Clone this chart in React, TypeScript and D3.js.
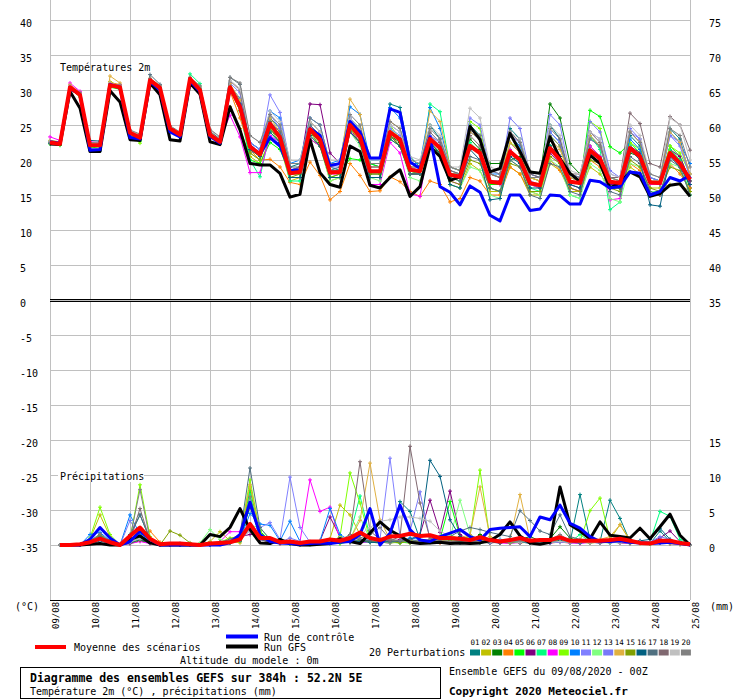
import * as d3 from "d3"

// time axis: 6-hourly steps over 384h, one label per day
const days = ["09/08", "10/08", "11/08", "12/08", "13/08", "14/08", "15/08", "16/08", "17/08", "18/08", "19/08", "20/08", "21/08", "22/08", "23/08", "24/08", "25/08"]
const hours = d3.range(0, 385, 6)
const precipHours = hours.slice(1)

const leftTicks = [40, 35, 30, 25, 20, 15, 10, 5, 0, -5, -10, -15, -20, -25, -30, -35]
const rightTempTicks = [75, 70, 65, 60, 55, 50, 45, 40, 35]
const rightPrecipTicks = [15, 10, 5, 0]

const perturbLabels = ["01", "02", "03", "04", "05", "06", "07", "08", "09", "10", "11", "12", "13", "14", "15", "16", "17", "18", "19", "20"]
const perturbColors = ["#008080", "#c0c000", "#008000", "#ff8000", "#00ff00", "#800080", "#00ff80", "#ff00ff", "#80ff00", "#0080ff", "#8080ff", "#80ff80", "#7878f8", "#e0b040", "#80a000", "#006080", "#507080", "#806870", "#c0c0c0", "#808080"]

// Temperature 2m (°C)
const tempMean = [22.5, 22.3, 30.4, 29.3, 22.1, 22.1, 30.7, 30.4, 23.9, 23.2, 31.4, 30.3, 24.5, 23.6, 31.6, 30, 23.6, 22.6, 30.4, 27.6, 21.9, 20.8, 25.2, 23.2, 18.1, 18.3, 24.4, 22.9, 18.2, 18.3, 25, 23.3, 18.4, 18.4, 24, 22.9, 18.6, 18.4, 23, 21.7, 17.9, 17.6, 22, 21, 16.9, 16.7, 21.2, 20, 16.7, 16.4, 21.7, 20, 16.9, 16.7, 21.4, 20.2, 16.9, 16.7, 21.7, 20.5, 16.8, 16.7, 21, 19.5, 17.2]
const tempControl = [22.6, 22.4, 30.2, 29.4, 21.4, 21.5, 30.8, 30.3, 23.2, 23, 31.2, 30, 24, 23.3, 31.3, 29.8, 23.4, 22.4, 30.2, 27.8, 22, 20.8, 23.2, 22, 18.5, 18.6, 24.5, 23.5, 19.2, 19.5, 25.5, 24, 20.3, 20.3, 27.3, 26.8, 19.7, 18.8, 23.3, 16.2, 15.4, 13.6, 16.3, 15.4, 12.1, 11.3, 15, 15, 12.8, 13, 15, 14.9, 13.7, 13.7, 17.1, 16.9, 16, 16.2, 18.3, 18.1, 15, 15.5, 17.5, 17, 17.8]
const tempGfs = [22.3, 22.2, 29.8, 27.4, 21.2, 21.2, 29.9, 28.3, 22.9, 22.8, 31, 29.3, 22.9, 22.7, 31, 29.4, 22.6, 22.2, 27.6, 24.3, 19.5, 19.3, 19.3, 18.1, 14.7, 15.1, 22.9, 18.2, 16.5, 16.1, 22, 21.2, 16.4, 16, 17.5, 18.6, 14.8, 16.2, 21.9, 20.5, 17.1, 17.6, 24.8, 22.9, 18.3, 18.8, 23.8, 21.2, 18.3, 18.1, 23.3, 20.2, 18.1, 16.9, 20.7, 19.5, 16, 16.7, 18.3, 17.6, 14.8, 15.2, 16.4, 16.6, 14.8]

const tempP01 = [22.6, 22.4, 30.5, 29.5, 22.3, 22.2, 30.6, 30.5, 24, 23.3, 31.5, 30.4, 24.6, 23.7, 31.4, 30.1, 23.8, 22.8, 30.6, 28.2, 22.5, 21.5, 26, 24.5, 19, 19.5, 25.5, 24, 19, 18.5, 26, 24.5, 19.5, 19, 28, 27.5, 20.5, 19, 25, 23, 19, 18.5, 25, 23.5, 18, 17.5, 24.5, 23, 18, 17.5, 25, 23, 17.5, 17, 23.5, 22, 17, 16.5, 23.5, 22, 17, 16.5, 24.5, 23, 17.5]
const tempP02 = [22.8, 22.6, 30.2, 29.2, 22.4, 22.3, 31.2, 30.6, 23.8, 23.1, 31.2, 30.2, 24.2, 23.4, 31.3, 30.2, 23.4, 22.4, 27.6, 24.5, 20.5, 19.5, 23, 22, 17, 17.5, 23, 22, 17, 17.5, 24, 22.5, 17.5, 17.5, 23, 22, 18, 18, 22.5, 21, 16.5, 16, 19.5, 18.5, 15.5, 15.5, 19, 18, 15, 15, 19.5, 18.5, 15.5, 15.5, 19, 18, 16, 16, 19, 18, 16, 16, 16.5, 16.5, 15.5]
const tempP03 = [22.4, 22.2, 30.1, 29.1, 21.9, 22, 30.5, 30.2, 23.6, 22.9, 31.2, 30.1, 24.3, 23.3, 31.4, 29.9, 23.3, 22.3, 30.1, 27.5, 21.5, 20.5, 24.5, 23, 18, 18.5, 24, 22.5, 18, 18.5, 25, 23, 18, 18, 23.5, 22.5, 18.5, 18.5, 22, 21, 18, 18, 23, 21.5, 19.5, 19.5, 20, 20.5, 17.5, 17.5, 28, 26, 19.5, 18, 22, 20.5, 16.5, 16, 21, 20.5, 17, 16.5, 21.5, 20, 16]
const tempP04 = [22.5, 22.4, 30.6, 29.4, 22.2, 22.3, 31, 30.8, 24.1, 23.4, 31.2, 30.1, 24.4, 23.4, 31.5, 30.2, 23.8, 22.7, 29.8, 26, 21.4, 20, 20.1, 19, 16.8, 16.5, 19.7, 17.8, 14.3, 15.5, 19.5, 17.8, 15.5, 15.6, 17.6, 16.9, 15.5, 14.8, 17, 16.5, 14, 14.5, 17.5, 17, 15, 15, 19, 18, 15.5, 15, 20, 18.5, 16, 15.5, 20, 19, 16, 16, 19.5, 18.5, 15, 15, 19.5, 18, 16]
const tempP05 = [22.3, 22.1, 30.2, 29, 21.7, 21.9, 30.4, 30.1, 23.5, 22.7, 31.3, 30.3, 24.4, 23.4, 31.8, 30.4, 23.5, 22.4, 30.5, 27.8, 20, 19.5, 22.5, 21.5, 18, 18, 23, 22, 17.5, 18, 20.2, 20, 19.5, 19, 23.5, 22, 18, 18.5, 23, 21.5, 17.5, 17, 22, 21, 16.5, 16.5, 21.5, 20, 16.5, 16, 22, 20.5, 17, 16.5, 27.1, 26.2, 21.9, 21, 22.5, 21, 17.5, 17, 22, 20.5, 17]
const tempP06 = [22.6, 22.4, 30.3, 29.3, 22.2, 22.1, 30.6, 30.4, 23.9, 23.2, 31.5, 30.4, 24.6, 23.7, 31.6, 30.1, 23.7, 22.7, 30.8, 28.5, 22, 21, 25.5, 23.5, 18.5, 19, 28, 27.9, 21, 19.5, 24, 22.5, 17.5, 17.5, 23.5, 22, 18, 18, 23, 22, 18, 17.5, 22, 21, 17, 17, 22.5, 21, 17.5, 17, 21, 19.5, 16.5, 16, 21, 20, 16.5, 16.5, 22, 21, 17, 17, 21.5, 20.5, 17]
const tempP07 = [22.4, 22.3, 30.5, 29.4, 22.1, 22, 30.8, 30.5, 24, 23.2, 31.4, 30.3, 24.5, 23.5, 32.3, 30.9, 23.6, 22.5, 30.2, 27, 20, 17.6, 24, 22.5, 17, 17, 24.5, 23, 18, 18.5, 25.5, 23.5, 18.5, 18.5, 24.5, 23, 18.5, 18, 28, 26.9, 19, 18.5, 22.5, 21, 16, 15.5, 21, 19.5, 16, 15.5, 22, 20, 15, 14.5, 23.5, 21.5, 12.9, 14, 22, 20.5, 16.5, 16.5, 21.5, 20, 15]
const tempP08 = [23.3, 22.8, 31, 29.8, 22.6, 22.5, 30.9, 30.7, 24.1, 23.5, 31.6, 30.5, 24.7, 23.8, 31.7, 30.3, 23.9, 22.9, 26.4, 23.3, 18.2, 18.2, 23.5, 22.5, 17.5, 17.5, 23, 22, 18, 18, 24, 23, 16.5, 16.5, 22.5, 21, 15.2, 14.8, 23.5, 22, 17, 16.5, 22, 21, 17, 16.5, 21.5, 20, 16.5, 16, 21.5, 20.5, 16, 15.5, 22, 20.5, 14.3, 14.5, 21.5, 20.5, 16.5, 16.5, 20.5, 19.5, 16.5]
const tempP09 = [22.5, 22.3, 30.2, 29.1, 22, 21.9, 30.5, 30.3, 23.7, 22.4, 31.3, 30.2, 24.4, 23.5, 31.5, 29.9, 23.5, 22.5, 30.5, 28.3, 21.5, 20.5, 25.5, 23.5, 18, 18.5, 25, 23.5, 18, 18.5, 24.5, 23, 18.5, 18.5, 25, 23, 18.5, 18.5, 23.5, 22, 18.5, 18, 25.5, 24.5, 18, 17.5, 22.5, 21.5, 17.5, 17, 23.5, 22, 17.5, 17, 25.5, 24.5, 17.5, 17, 22.5, 21.5, 17.5, 17, 22, 21, 18]
const tempP10 = [22.6, 22.5, 30.4, 29.2, 21.4, 21.3, 30.6, 30.3, 23.4, 22.9, 31.4, 30.2, 24.5, 23.6, 31.2, 29.7, 23.5, 22.5, 30.6, 28.8, 22.5, 21.5, 27, 26, 19.5, 20, 26, 25, 19.5, 20, 27.6, 26.5, 20, 20, 27.5, 26, 19.5, 19.5, 27.5, 24.5, 19, 18.5, 24, 23, 18, 18, 23.5, 22, 17.5, 17.5, 24, 22.5, 18, 17.5, 23, 22, 17.5, 17, 23, 21.5, 17.5, 17, 24, 22.4, 19.5]
const tempP11 = [22.5, 22.3, 30.6, 29.5, 22.3, 22.2, 30.8, 30.5, 24, 23.3, 31.5, 30.4, 24.5, 23.6, 31.7, 30.1, 23.8, 22.8, 31, 29.6, 21, 21.5, 29.3, 26.8, 19.5, 19.5, 25.5, 24, 18.5, 18.5, 26, 24, 18.5, 18.5, 24.5, 23.5, 19, 18.5, 23.5, 22, 19, 18.5, 26, 25, 18.5, 18, 23.5, 22.5, 17, 16.5, 26.5, 25, 18, 17.5, 24, 23, 18, 17.5, 24, 23, 17.5, 17, 23.5, 22.5, 18]
const tempP12 = [22.4, 22.2, 30.3, 29.2, 22.2, 22.1, 30.6, 30.3, 23.8, 23.1, 31.3, 30.2, 24.5, 23.6, 31.7, 30.2, 23.5, 22.6, 30.3, 27.4, 21, 20, 24, 22.5, 17.5, 17.5, 23.5, 22, 17, 17.5, 24, 22, 17.5, 17, 23, 22, 17.5, 17, 22.5, 21, 16.5, 16, 19, 18.5, 15, 14.5, 20, 19, 15.5, 15, 20, 19, 15, 14.5, 19.5, 18.5, 14.5, 14, 19.5, 19, 15.5, 15.5, 19.5, 19, 15]
const tempP13 = [22.6, 22.4, 30.5, 29.4, 21.6, 21.5, 30.7, 30.4, 23.9, 23.3, 31.5, 30.4, 24.6, 23.7, 31.6, 30, 23.6, 22.6, 30.7, 28, 22.5, 21.5, 26.5, 24.5, 18.5, 19, 25, 23.5, 19, 19, 25.5, 24, 19, 19, 25, 24, 19.5, 19, 23.5, 22.5, 18.5, 18, 24, 23, 18, 17.5, 26, 24.5, 18, 17.5, 24, 22.5, 17.5, 17, 25.5, 24, 18.5, 17.5, 24.5, 23, 17.5, 17, 23.5, 22, 17.5]
const tempP14 = [22.7, 22.6, 30.8, 29.6, 22.5, 22.4, 32, 31, 24.2, 23.6, 31.7, 30.6, 24.8, 23.9, 31.8, 30.4, 24, 23, 30.9, 28.6, 22, 20.5, 26, 24, 18.5, 19, 25.5, 24, 19, 19.5, 28.7, 26.5, 19, 19, 25.5, 24.5, 19, 19, 27, 25.5, 19, 18.5, 24, 23, 18, 17.5, 22.5, 21, 17.5, 17, 23, 21.5, 17.5, 17, 23.5, 22, 17.5, 17, 24, 22.5, 17, 17, 24, 22.5, 18]
const tempP15 = [22.5, 22.3, 30.3, 29.2, 22, 22, 30.5, 30.2, 23.8, 23.1, 31.3, 30.2, 24.4, 23.5, 31.5, 30.4, 23.5, 22.5, 30, 27.1, 21, 20, 24.5, 22.5, 17.5, 18, 24, 22, 17.5, 18, 24.5, 22.5, 18, 18, 23.5, 22, 18, 18, 22.5, 21, 17, 16.5, 20, 19.5, 16, 15.5, 19.5, 19, 15.5, 15.5, 20.5, 19.5, 16, 15.5, 20, 19.5, 16, 15.5, 20, 19, 16, 15.5, 19, 18.5, 15.5]
const tempP16 = [22.4, 22.3, 30.4, 29.3, 22.8, 22.7, 30.7, 30.4, 23.8, 23.2, 31.4, 30.3, 24.5, 23.6, 31.5, 30, 23.6, 22.6, 30.5, 28, 21.5, 20.5, 24, 22.5, 17.5, 17.5, 23.5, 22, 17.5, 17.5, 24, 22.5, 17.5, 17.5, 23, 22, 18, 18, 22.5, 21, 16.5, 16, 21.5, 20, 14.3, 14.5, 20.5, 19.5, 16, 16, 22, 20.5, 16.5, 16, 21.5, 20, 16, 16, 21.5, 20, 13.6, 13.4, 20.5, 19, 16.5]
const tempP17 = [22.6, 22.5, 30.4, 29.4, 22.4, 22.3, 30.8, 30.5, 24, 23.4, 32.2, 30.8, 24.7, 23.8, 31.7, 30.3, 24.1, 23, 31.8, 30.8, 22, 21, 25.5, 24, 19, 19, 25, 23.5, 18.5, 19, 25, 24, 18.5, 18.5, 24, 23, 18, 18, 23, 22, 17.5, 17, 20.5, 20, 16, 15.5, 20, 19, 15, 14.5, 19.5, 19, 15.5, 15, 20.5, 19.5, 15.5, 15, 20.5, 19.5, 15.5, 15, 20, 19, 15]
const tempP18 = [22.5, 22.4, 30.5, 29.3, 22.2, 22.2, 30.7, 30.5, 23.9, 23.3, 31.6, 30.4, 24.6, 23.7, 31.6, 30.1, 23.7, 22.7, 31.3, 30, 22, 21, 25, 23.5, 18.5, 19, 24.5, 23, 18.5, 18.5, 25, 23.5, 19, 19, 24, 23, 19, 19, 24, 22.5, 18.5, 18, 23.5, 22, 18, 17.5, 24, 22.5, 18, 17.5, 24.5, 23, 18, 18, 24, 22.5, 17.5, 17.5, 26.7, 25.2, 19.5, 19, 26.2, 25, 21.4]
const tempP19 = [22.7, 22.5, 30.6, 29.5, 22.4, 22.3, 31, 30.6, 24.2, 23.5, 31.5, 30.5, 24.7, 23.9, 31.8, 30.4, 24.3, 23.2, 31.4, 30.2, 23.5, 22.5, 27, 25.5, 20, 20, 25.5, 24, 20, 20, 26, 24.5, 20, 20, 25, 24, 20.5, 20, 25, 23.5, 19, 19, 27.4, 26, 19, 18.5, 24, 23, 18.5, 18, 25, 23.5, 18.5, 18, 24, 23, 18, 17.5, 25, 23.5, 18, 17.5, 26, 25, 20]
const tempP20 = [22.5, 22.4, 30.5, 29.6, 22.5, 22.4, 30.9, 30.7, 24.3, 23.7, 31.6, 30.6, 24.9, 24, 31.8, 30.6, 24.4, 23.3, 31.8, 31, 23.5, 22.5, 26.5, 25, 19.5, 19.5, 26, 25, 19.5, 19.5, 26.5, 25, 19.5, 19.5, 25.5, 24.5, 20, 19.5, 24.5, 23, 19, 18.5, 24.5, 23.5, 18.5, 18, 24, 22.5, 17.5, 17.5, 23.5, 22, 18, 17.5, 23, 22, 17.5, 17, 24, 22.5, 18, 17.5, 24.5, 23.5, 19]

// Precipitation (mm per 6h), from +6h
const precipMean = [0, 0, 0.1, 0.4, 0.9, 0.4, 0, 1.3, 2.5, 0.9, 0.1, 0.2, 0.2, 0.1, 0, 0.2, 0.3, 0.4, 0.8, 3, 1, 1, 0.4, 0.5, 0.3, 0.5, 0.5, 0.8, 0.6, 1, 1.8, 1, 0.7, 1.2, 1.3, 1.6, 1.3, 1.4, 1, 1, 0.9, 0.7, 1.1, 0.7, 0.5, 0.7, 1, 0.6, 0.7, 0.7, 1.1, 0.6, 0.6, 0.6, 0.6, 0.7, 0.9, 0.6, 0.3, 0.2, 0.6, 0.6, 0.3, 0.1]
const precipControl = [0, 0, 0, 0.8, 2.5, 1, 0, 0.5, 2, 0.8, 0, 0, 0, 0, 0, 0, 0, 0.3, 1.5, 6.1, 1.5, 0.5, 0.3, 0.2, 0.1, 0.2, 0.3, 0.2, 0.4, 0.5, 1.5, 5.2, 0, 1.7, 5.7, 2.2, 0.7, 0.5, 1.2, 1.7, 2.2, 1.2, 0.7, 2.2, 2.4, 2.5, 2.6, 1.2, 4, 3.6, 5.7, 3.1, 2.4, 1.2, 0.5, 0.5, 0.6, 0.4, 0.3, 0.2, 0.3, 0.4, 0.2, 0]
const precipGfs = [0, 0, 0, 0.1, 0.2, 0, 0, 0.8, 1.3, 0.3, 0, 0, 0, 0, 0, 1.5, 1.2, 2.5, 5.2, 2.2, 0.3, 0.2, 0.8, 0.2, 0, 0, 0.1, 0.2, 0.9, 0.5, 0.2, 1.7, 3.3, 2.1, 1.3, 0.4, 0.2, 0.3, 0.4, 0.2, 0.3, 0.2, 0.3, 0.6, 1.5, 3.3, 1.3, 0.3, 0.1, 0.4, 8.3, 2.9, 2, 0.9, 3.3, 1.4, 1.2, 1, 2.4, 0.9, 2.6, 4.4, 1.4, 0]

const precipP01 = [0, 0, 0, 0.6, 1.5, 0.4, 0, 1.5, 4.3, 0.8, 0, 0, 0.2, 0, 0, 0, 0.1, 0.3, 0.5, 6, 1.2, 0.5, 0.2, 0.3, 0.1, 0.2, 0.4, 0.3, 0.6, 0.4, 0.8, 0.5, 0.3, 1, 6.2, 4.8, 0.8, 0.6, 0.4, 0.5, 0.3, 0.4, 0.6, 0.3, 0.5, 0.8, 0.4, 0.3, 0.5, 0.6, 0.9, 0.4, 7.2, 0.8, 0.5, 6.4, 3.8, 0.5, 0.3, 0.2, 2, 0.5, 0.2, 0]
const precipP02 = [0, 0, 0, 0.8, 4.3, 1.2, 0, 0.3, 0.8, 0.2, 0, 0, 0, 0, 0, 0.5, 1.9, 0.6, 0.3, 3, 0.8, 0.4, 0.2, 0.5, 0.3, 0.3, 0.6, 0.9, 5.7, 4.3, 1.5, 0.8, 0.4, 0.3, 0.5, 0.4, 0.3, 0.6, 0.4, 0.3, 0.5, 0.4, 0.3, 0.5, 0.4, 0.6, 0.3, 0.4, 0.5, 0.3, 0.5, 0.4, 0.3, 0.6, 0.4, 0.8, 2.9, 0.6, 0.4, 0.3, 0.5, 0.4, 0.2, 0]
const precipP03 = [0, 0, 0, 0.3, 1.2, 0.5, 0, 0.2, 0.6, 0.3, 0, 0, 0, 0, 0, 0.1, 0.2, 0.4, 0.8, 5.5, 1.4, 0.6, 0.3, 0.2, 0.1, 0.2, 0.3, 0.2, 0.5, 0.4, 0.6, 0.5, 0.4, 0.3, 0.5, 0.6, 0.4, 0.5, 0.6, 0.8, 0.6, 0.5, 1.5, 0.4, 0.3, 0.5, 0.8, 1.2, 0.6, 0.9, 2.6, 1, 0.5, 0.4, 0.3, 0.5, 0.3, 0.4, 0.3, 0.2, 0.4, 0.3, 0.2, 0]
const precipP04 = [0, 0, 0, 0.2, 0.9, 0.3, 0, 0.5, 1.2, 2, 0.4, 0, 0, 0, 0, 0.2, 0.3, 0.5, 1.2, 8.3, 2, 0.4, 0.3, 0.2, 0.1, 0.3, 0.2, 0.4, 0.3, 0.5, 0.4, 0.8, 0.5, 0.3, 0.4, 0.3, 0.5, 0.4, 0.3, 0.4, 0.5, 1.5, 0.6, 0.3, 0.4, 0.3, 0.5, 0.3, 0.4, 0.3, 0.4, 0.3, 0.5, 0.3, 0.4, 0.6, 0.3, 0.4, 0.2, 0.3, 0.3, 0.2, 0.1, 0]
const precipP05 = [0, 0, 0, 0.4, 1, 0.6, 0, 0.4, 1, 0.5, 0, 0, 0.1, 0, 0, 0.1, 0.2, 0.4, 0.9, 7.8, 2, 0.6, 0.3, 0.2, 0.2, 0.1, 0.3, 0.4, 0.2, 0.5, 0.6, 0.4, 0.3, 0.5, 0.4, 0.3, 0.5, 0.4, 0.8, 6.2, 1.2, 0.5, 0.4, 0.3, 0.5, 0.3, 0.4, 0.3, 0.5, 0.4, 0.6, 0.3, 0.4, 0.3, 0.5, 0.4, 0.3, 0.2, 0.3, 0.2, 0.3, 0.2, 0.1, 0]
const precipP06 = [0, 0, 0, 0.2, 0.6, 0.3, 0, 0.3, 0.9, 0.4, 0, 0, 0, 0, 0, 0.1, 0.3, 0.8, 1.2, 1.5, 1.5, 0.8, 0.4, 0.3, 0.2, 0.4, 0.6, 4, 1.2, 0.5, 0.4, 0.6, 0.5, 0.4, 0.8, 0.6, 1.5, 6.4, 1.8, 7.7, 1.5, 0.6, 0.4, 0.3, 0.5, 0.4, 0.3, 0.5, 0.4, 0.3, 0.5, 0.4, 0.3, 0.6, 0.4, 0.5, 0.4, 0.3, 0.5, 0.4, 1, 2, 0.5, 0]
const precipP07 = [0, 0, 0, 0.3, 1.3, 0.5, 0, 0.6, 1.8, 0.6, 0, 0, 0, 0, 0, 0.1, 0.2, 0.3, 0.8, 7.2, 1.6, 0.5, 0.3, 0.2, 0.2, 0.1, 0.3, 0.4, 0.6, 1.5, 7, 1.2, 0.5, 0.4, 0.3, 0.5, 0.4, 0.6, 0.5, 0.4, 0.3, 0.5, 0.4, 0.6, 0.3, 0.4, 0.5, 0.3, 0.4, 0.5, 0.8, 0.4, 1.5, 0.5, 0.4, 0.3, 0.6, 0.4, 0.3, 0.5, 4.8, 4.1, 0.8, 0]
const precipP08 = [0, 0, 0, 0.3, 0.7, 0.2, 0, 0.2, 0.5, 0.2, 0, 0, 0, 0, 0, 0.2, 0.5, 1.9, 1.9, 2.5, 0.8, 0.4, 0.2, 0.3, 0.5, 9.3, 4.8, 5.4, 0.8, 0.4, 0.3, 0.5, 0.4, 0.3, 0.6, 0.4, 0.3, 0.5, 0.4, 0.3, 0.4, 0.3, 0.5, 0.4, 0.3, 0.2, 0.4, 0.3, 0.5, 0.3, 0.4, 0.3, 0.2, 0.4, 0.3, 0.5, 0.3, 0.2, 0.3, 0.4, 0.3, 0.2, 0.1, 0]
const precipP09 = [0, 0, 0, 1, 5.4, 1.5, 0, 0.8, 8.6, 1.2, 0, 0, 0, 0, 0, 0.2, 0.4, 1, 1.2, 9.3, 1.8, 0.6, 0.4, 0.3, 0.2, 0.3, 0.5, 0.4, 1.2, 10.3, 6, 0.8, 0.5, 0.4, 0.3, 0.6, 0.4, 0.5, 0.8, 1.5, 0.8, 1.2, 10.7, 0.8, 0.5, 0.4, 0.6, 0.3, 0.4, 0.5, 0.6, 0.4, 0.5, 4.9, 6.7, 0.8, 0.4, 0.3, 0.4, 0.3, 0.5, 0.3, 0.2, 0]
const precipP10 = [0, 0, 0, 1.5, 1.8, 0.6, 0, 4.3, 1.5, 0.5, 0, 0, 0, 0, 0, 0.1, 0.2, 0.4, 0.8, 4.5, 3, 2.8, 0.6, 3.4, 0.5, 0.3, 0.6, 5.2, 1.5, 0.6, 0.5, 0.8, 0.6, 0.4, 0.5, 1, 0.8, 0.6, 0.5, 0.4, 0.6, 0.5, 0.4, 0.6, 0.8, 0.5, 0.4, 0.6, 0.5, 0.3, 0.5, 0.4, 0.6, 0.4, 0.3, 0.5, 0.4, 0.3, 0.6, 0.4, 0.3, 0.4, 0.2, 0]
const precipP11 = [0, 0, 0, 0.2, 0.8, 0.3, 0, 0.4, 1, 0.3, 0, 0, 0, 0, 0, 0.2, 0.4, 0.6, 1, 2, 2.5, 3.2, 0.8, 9.7, 2.5, 0.4, 0.5, 0.6, 0.8, 0.6, 0.5, 0.6, 0.8, 12.4, 1.2, 0.5, 0.6, 0.4, 0.5, 0.6, 0.4, 0.5, 0.6, 0.4, 0.5, 0.3, 0.4, 0.5, 0.6, 0.4, 0.5, 0.3, 0.4, 0.5, 0.3, 0.4, 0.6, 0.4, 0.3, 0.5, 0.8, 0.6, 0.3, 0]
const precipP12 = [0, 0, 0, 0.3, 1, 0.4, 0, 0.5, 1.2, 0.4, 0, 0, 0, 0, 0.3, 2.2, 0.8, 0.4, 0.6, 2.8, 2.5, 0.8, 0.4, 0.3, 0.2, 0.3, 0.4, 0.3, 0.5, 0.8, 4, 0.8, 0.5, 0.3, 0.4, 0.6, 0.5, 0.4, 0.8, 1, 6.4, 1.5, 0.6, 0.4, 0.5, 0.3, 0.4, 0.5, 0.3, 0.4, 0.5, 0.4, 0.3, 0.5, 0.4, 0.3, 0.5, 0.4, 0.3, 0.2, 0.4, 0.3, 0.2, 0]
const precipP13 = [0, 0, 0, 0.4, 0.9, 0.3, 0, 3.5, 1.2, 0.4, 0, 0, 0, 0, 0, 0.1, 0.3, 0.5, 0.9, 3, 1.2, 0.6, 0.4, 1, 0.5, 0.3, 0.4, 0.6, 0.5, 0.4, 0.6, 0.5, 0.4, 0.8, 0.6, 2, 7.6, 0.8, 0.5, 0.4, 0.6, 0.4, 0.5, 0.3, 0.4, 0.6, 0.5, 0.3, 0.4, 0.5, 0.4, 0.6, 0.3, 0.4, 0.5, 0.3, 0.4, 0.3, 0.5, 0.4, 1.2, 0.8, 0.3, 0]
const precipP14 = [0, 0, 0, 0.3, 1.1, 0.5, 0, 0.4, 0.9, 0.6, 0, 0, 0, 0, 0, 0.3, 0.5, 0.6, 1, 8.6, 1.5, 0.5, 0.3, 0.2, 0.3, 0.4, 0.3, 0.5, 0.6, 0.8, 3.5, 11.7, 3.6, 0.8, 0.5, 0.6, 0.4, 0.5, 0.6, 0.8, 1, 1.5, 8.3, 1.2, 0.6, 0.8, 7.2, 0.8, 0.5, 0.4, 0.6, 0.5, 0.4, 0.6, 0.8, 1.2, 2.9, 0.8, 0.4, 0.3, 0.5, 0.4, 0.2, 0]
const precipP15 = [0, 0, 0, 0.5, 1.4, 0.6, 0, 0.3, 0.7, 0.4, 0, 2, 1.4, 0.3, 0, 0.2, 0.3, 0.5, 0.8, 3, 1, 0.5, 0.3, 0.2, 0.3, 0.2, 0.4, 0.3, 0.5, 0.4, 0.6, 0.5, 0.4, 0.5, 0.3, 0.6, 0.4, 0.5, 0.4, 0.6, 0.5, 0.4, 0.6, 0.5, 0.4, 0.3, 0.5, 0.4, 0.6, 0.5, 0.6, 0.4, 0.5, 0.3, 0.4, 0.5, 0.6, 0.3, 0.4, 0.3, 0.4, 0.3, 0.2, 0]
const precipP16 = [0, 0, 0, 0.2, 0.6, 0.2, 0, 0.3, 0.8, 0.3, 0, 0, 0, 0, 0, 0.1, 0.2, 0.4, 0.6, 2.5, 0.8, 0.4, 0.3, 0.2, 0.1, 0.3, 0.4, 0.3, 0.5, 0.4, 0.5, 0.4, 0.3, 0.6, 0.5, 0.8, 1.5, 12.1, 9.8, 3.6, 1.2, 0.6, 0.5, 0.4, 0.3, 0.5, 0.4, 0.3, 0.5, 0.4, 0.6, 0.4, 0.3, 0.5, 0.4, 0.6, 0.5, 0.4, 0.6, 0.8, 2.4, 0.8, 0.3, 0]
const precipP17 = [0, 0, 0, 0.4, 1.2, 0.5, 0, 1.2, 4.3, 0.8, 0, 0, 0, 0, 0, 0.2, 0.4, 0.8, 1.5, 11, 2.5, 0.8, 0.5, 0.3, 0.2, 0.4, 0.5, 0.3, 0.6, 0.5, 0.8, 0.6, 0.5, 0.4, 0.6, 0.8, 0.5, 0.6, 0.8, 1.2, 2, 2.5, 2.2, 1.8, 1.5, 1.2, 4.9, 3.5, 2, 1.5, 4.3, 1.2, 0.8, 0.6, 0.5, 0.4, 0.6, 0.5, 0.4, 0.3, 0.5, 0.4, 0.2, 0]
const precipP18 = [0, 0, 0, 0.3, 0.8, 0.4, 0, 0.8, 5.2, 0.6, 0, 0, 0, 0, 0, 0.2, 0.4, 0.6, 1, 2.5, 0.8, 0.5, 0.3, 0.4, 0.3, 0.2, 0.4, 0.5, 0.6, 1.5, 11.9, 2, 0.8, 0.6, 1.2, 14.1, 6, 1, 0.6, 0.5, 0.6, 0.4, 0.5, 0.6, 0.4, 0.5, 0.6, 0.8, 0.5, 0.6, 0.8, 0.5, 0.4, 0.3, 0.6, 0.8, 0.5, 0.4, 0.3, 0.4, 0.6, 0.5, 0.2, 0]
const precipP19 = [0, 0, 0, 0.2, 0.7, 0.3, 0, 0.4, 0.9, 0.5, 0, 0, 0, 0, 0, 0.2, 0.3, 0.5, 0.8, 2, 1, 0.6, 0.4, 0.3, 0.4, 0.5, 0.6, 0.8, 1, 1.2, 1.5, 2.5, 3.4, 3.6, 4, 4, 3.8, 3.4, 2, 1.2, 0.8, 0.6, 0.5, 0.4, 0.6, 0.5, 0.4, 0.5, 0.6, 0.4, 0.5, 0.4, 0.6, 0.3, 0.4, 0.5, 0.3, 0.4, 0.5, 0.3, 0.4, 0.3, 0.2, 0]
const precipP20 = [0, 0, 0, 0.5, 1.6, 0.5, 0, 1, 7.9, 0.8, 0, 0, 0, 0, 0, 0.2, 0.3, 0.6, 1.2, 6.9, 1.5, 0.6, 0.4, 0.3, 0.2, 0.4, 0.3, 0.5, 0.6, 0.8, 1, 1.5, 2.5, 0.8, 0.6, 0.5, 0.6, 0.8, 0.5, 0.4, 0.6, 0.5, 0.4, 0.6, 0.5, 0.4, 0.6, 0.5, 0.4, 0.8, 1.5, 0.6, 0.4, 0.5, 0.3, 0.4, 0.5, 0.4, 0.3, 0.4, 0.5, 0.3, 0.2, 0]

const tempPerturb = [tempP01, tempP02, tempP03, tempP04, tempP05, tempP06, tempP07, tempP08, tempP09, tempP10, tempP11, tempP12, tempP13, tempP14, tempP15, tempP16, tempP17, tempP18, tempP19, tempP20]
const precipPerturb = [precipP01, precipP02, precipP03, precipP04, precipP05, precipP06, precipP07, precipP08, precipP09, precipP10, precipP11, precipP12, precipP13, precipP14, precipP15, precipP16, precipP17, precipP18, precipP19, precipP20]

const FONT = "'DejaVu Sans Mono', monospace"
const GRID = "#c0c0c0"

export default function App() {
  const width = 740
  const height = 700

  const x = d3.scaleLinear().domain([0, 384]).range([50, 690])
  const y = d3.scaleLinear().domain([-35, 40]).range([545, 20])
  const yRight = d3.scaleLinear().domain([35, 75]).range([300, 20])
  const yPrecip = d3.scaleLinear().domain([0, 15]).range([545, 440])

  const tempLine = d3.line<number>().x((_, i) => x(hours[i])).y(d => y(d))
  const precipLine = d3.line<number>().x((_, i) => x(precipHours[i])).y(d => yPrecip(d))

  // small "+" marks at every forecast step
  const crosses = (vals: number[], hrs: number[], sy: (v: number) => number) =>
    vals.map((v, i) => `M${x(hrs[i]) - 2},${sy(v)}h4M${x(hrs[i])},${sy(v) - 2}v4`).join("")

  const dayX = (k: number) => x(k * 24)

  return (
    <div>
      <style>{`body{margin:0}`}</style>
      <svg width={width} height={height} style={{ display: "block", background: "#fff" }} fontFamily={FONT}>
        {/* grid */}
        <g stroke={GRID} strokeWidth={1} shapeRendering="crispEdges">
          {days.map((d, k) => (
            <line key={d} x1={dayX(k)} x2={dayX(k)} y1={0} y2={600} />
          ))}
          {leftTicks.map(t => (
            <line key={t} x1={50} x2={690} y1={y(t)} y2={y(t)} />
          ))}
        </g>
        {/* zero double line + bottom axis */}
        <g stroke="#000" strokeWidth={1} shapeRendering="crispEdges">
          <line x1={50} x2={690} y1={y(0) - 0.5} y2={y(0) - 0.5} />
          <line x1={50} x2={690} y1={y(0) + 1.5} y2={y(0) + 1.5} />
          <line x1={50} x2={690} y1={600} y2={600} />
        </g>

        <text x={60} y={71} fontSize={10}>Températures 2m</text>
        <rect x={58} y={470} width={86} height={12} fill="#fff" />
        <text x={60} y={480} fontSize={10}>Précipitations</text>

        {/* perturbations */}
        <g fill="none" strokeWidth={1}>
          {tempPerturb.map((s, k) => (
            <g key={"t" + k} stroke={perturbColors[k]}>
              <path d={tempLine(s) ?? ""} />
              <path d={crosses(s, hours, y)} />
            </g>
          ))}
          {precipPerturb.map((s, k) => (
            <g key={"p" + k} stroke={perturbColors[k]}>
              <path d={precipLine(s) ?? ""} />
              <path d={crosses(s, precipHours, yPrecip)} />
            </g>
          ))}
        </g>

        {/* GFS, control, mean */}
        <g fill="none" strokeLinejoin="round">
          <path d={tempLine(tempGfs) ?? ""} stroke="#000" strokeWidth={3} />
          <path d={precipLine(precipGfs) ?? ""} stroke="#000" strokeWidth={3} />
          <path d={tempLine(tempControl) ?? ""} stroke="#0000ff" strokeWidth={3} />
          <path d={precipLine(precipControl) ?? ""} stroke="#0000ff" strokeWidth={3} />
          <path d={tempLine(tempMean) ?? ""} stroke="#ff0000" strokeWidth={4} />
          <path d={precipLine(precipMean) ?? ""} stroke="#ff0000" strokeWidth={4} />
        </g>

        {/* axis labels */}
        <g fontSize={10} fill="#000">
          {leftTicks.map(t => (
            <text key={t} x={20} y={y(t) + 6.5}>{t}</text>
          ))}
          {rightTempTicks.map(t => (
            <text key={t} x={709} y={yRight(t) + 6.5}>{t}</text>
          ))}
          {rightPrecipTicks.map(t => (
            <text key={"p" + t} x={709} y={yPrecip(t) + 6.5}>{t}</text>
          ))}
          <text x={15} y={610}>(°C)</text>
          <text x={710} y={610}>(mm)</text>
        </g>
        <g fontSize={9} fill="#000">
          {days.map((d, k) => (
            <text key={d} transform={`translate(${dayX(k) + 9},629) rotate(-90)`}>{d}</text>
          ))}
        </g>

        {/* legend */}
        <g fontSize={10} fill="#000">
          <line x1={35} x2={66} y1={647} y2={647} stroke="#ff0000" strokeWidth={4} />
          <text x={74} y={651}>Moyenne des scénarios</text>
          <line x1={226} x2={258} y1={636.5} y2={636.5} stroke="#0000ff" strokeWidth={4} />
          <text x={264} y={641}>Run de contrôle</text>
          <line x1={226} x2={258} y1={646.5} y2={646.5} stroke="#000" strokeWidth={4} />
          <text x={264} y={651}>Run GFS</text>
          <text x={180} y={664}>Altitude du modele : 0m</text>
          <text x={369} y={656}>20 Perturbations</text>
        </g>
        <g>
          {perturbLabels.map((lab, k) => (
            <g key={lab}>
              <rect x={470 + k * 11.1} y={649.5} width={10} height={6} fill={perturbColors[k]} />
              <text x={475 + k * 11.1} y={645} fontSize={7.5} textAnchor="middle">{lab}</text>
            </g>
          ))}
        </g>

        {/* info box */}
        <rect x={20.5} y={667.5} width={420} height={31} fill="none" stroke="#000" strokeWidth={1} />
        <text x={30} y={682} fontSize={11.5} fontWeight="bold">Diagramme des ensembles GEFS sur 384h : 52.2N 5E</text>
        <text x={30} y={695} fontSize={10}>Température 2m (°C) , précipitations (mm)</text>
        <text x={449} y={675} fontSize={10}>Ensemble GEFS du 09/08/2020 - 00Z</text>
        <text x={449} y={695} fontSize={11} fontWeight="bold">Copyright 2020 Meteociel.fr</text>
      </svg>
    </div>
  )
}
